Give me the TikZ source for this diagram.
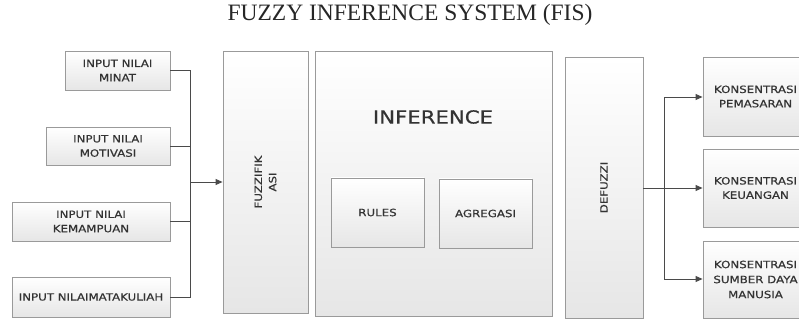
\documentclass[tikz,border=0pt]{standalone}
\usepackage{fontspec}
\setmainfont{Liberation Serif}
\newfontfamily\boxfont[FakeStretch=1.18,FakeBold=0.5]{DejaVu Sans}
\usetikzlibrary{arrows.meta,shadows}
\definecolor{edgegray}{HTML}{9A9A9A}
\definecolor{linegray}{HTML}{4A4A4A}
\definecolor{txtgray}{HTML}{333333}
\definecolor{fillbot}{HTML}{E6E6E6}
\tikzset{
  fbox/.style={draw=edgegray, line width=0.9pt, top color=white, bottom color=fillbot,
    drop shadow={shadow xshift=1.2pt, shadow yshift=-1.2pt, opacity=0.25, fill=black!60},
    inner sep=0pt, text=txtgray, font=\boxfont\fontsize{10}{14.3}\selectfont, align=center},
  lbl/.style={text=txtgray, font=\boxfont\fontsize{10}{14.3}\selectfont, align=center, inner sep=0pt},
  conn/.style={draw=linegray, line width=0.9pt},
  arr/.style={conn, -{Triangle[length=7pt,width=6pt]}}
}
\begin{document}
\begin{tikzpicture}[x=1pt,y=-1pt]
\useasboundingbox (0,0) rectangle (799,320);
\clip (0,0) rectangle (799,320);
\node[font=\fontsize{23.5}{26}\selectfont, text=black!85] (title) at (410,15) {FUZZY INFERENCE SYSTEM (FIS)};
% inputs
\node[fbox, minimum width=105pt, minimum height=39pt] (minat) at (117.5,70.5) {INPUT NILAI\\MINAT};
\node[fbox, minimum width=124pt, minimum height=38pt] (motiv) at (108,146) {INPUT NILAI\\MOTIVASI};
\node[fbox, minimum width=158pt, minimum height=39pt] (kemam) at (91,221.5) {INPUT NILAI\\KEMAMPUAN};
\node[fbox, minimum width=158pt, minimum height=40pt] (matkul) at (91,297) {INPUT NILAIMATAKULIAH};
% main blocks
\node[fbox, minimum width=85pt, minimum height=262pt] (fuzz) at (265.5,182) {};
\node[lbl, rotate=90] (fuzzlbl) at (fuzz.center) {FUZZIFIK\\ASI};
\node[fbox, minimum width=237pt, minimum height=265pt] (inf) at (433.5,183.5) {};
\node[text=txtgray, font=\boxfont\fontsize{18}{20}\selectfont, inner sep=0pt] (inflbl) at (433,117) {INFERENCE};
\node[fbox, minimum width=93pt, minimum height=69pt] (rules) at (377.5,212.5) {RULES};
\node[fbox, minimum width=93pt, minimum height=69pt] (agreg) at (485.5,213.5) {AGREGASI};
\node[fbox, minimum width=78pt, minimum height=261pt] (defuz) at (604,187.5) {};
\node[lbl, rotate=90] (defuzlbl) at (defuz.center) {DEFUZZI};
% outputs
\node[fbox, minimum width=105pt, minimum height=79pt] (out1) at (755.5,96.5) {KONSENTRASI\\PEMASARAN};
\node[fbox, minimum width=105pt, minimum height=78pt] (out2) at (755.5,188) {KONSENTRASI\\KEUANGAN};
\node[fbox, minimum width=105pt, minimum height=77pt, font=\boxfont\fontsize{10}{15}\selectfont] (out3) at (755.5,279.5) {KONSENTRASI\\SUMBER DAYA\\MANUSIA};
% connectors in
\coordinate (busin) at (190,182);
\draw[conn] (minat.east) -| (busin);
\draw[conn] (motiv.east) -| (busin);
\draw[conn] (kemam.east) -| (busin);
\draw[conn] (matkul.east) -| (busin);
\draw[arr] (busin) -- (fuzz.west |- busin);
% connectors out
\coordinate (busout) at (664,188);
\draw[conn] (defuz.east |- busout) -- (busout);
\draw[arr] (busout) |- (out1.west |- 0,97);
\draw[arr] (busout) -- (out2.west |- busout);
\draw[arr] (busout) |- (out3.west |- 0,279);
\end{tikzpicture}
\end{document}
